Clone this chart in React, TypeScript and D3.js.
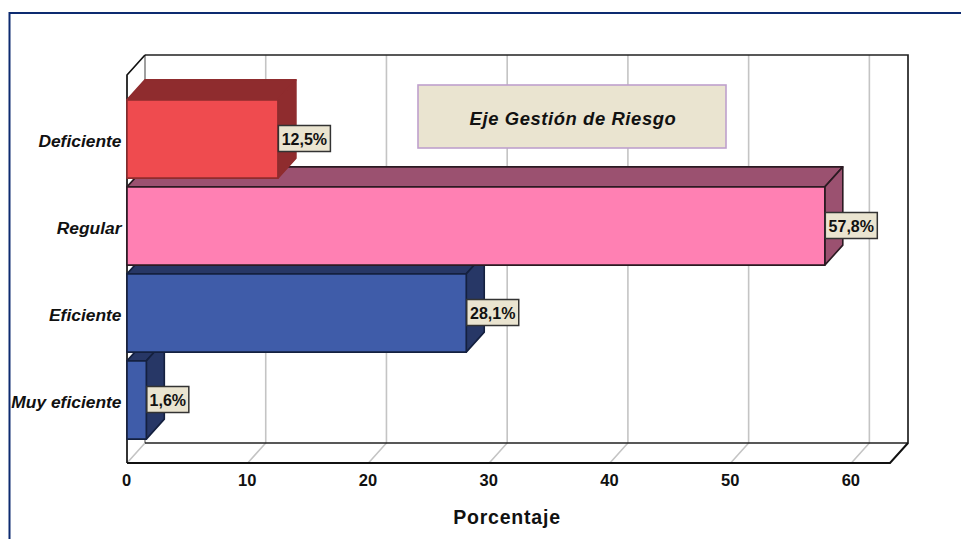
import React from "react";
import * as d3 from "d3";

const categories = ["Deficiente", "Regular", "Eficiente", "Muy eficiente"];
const percentages = [12.5, 57.8, 28.1, 1.6];
const valueLabels = ["12,5%", "57,8%", "28,1%", "1,6%"];
const frontColors = ["#EF4B4F", "#FF80B3", "#3F5CA9", "#3F5CA9"];
const depthColors = ["#8F2C2E", "#9B5170", "#273766", "#273766"];
const edgeColors = ["#8F2C2E", "#2b1a22", "#14203f", "#14203f"];
const xTicks = [0, 10, 20, 30, 40, 50, 60];
const chartTitle = "Eje Gestión de Riesgo";
const axisTitle = "Porcentaje";

const DX = 18;
const DY = -20;
const FLOOR = 463;
const TOP = 75;
const X_MAX = 63.2;
const SANS = "'Liberation Sans', Arial, sans-serif";

const x = d3.scaleLinear().domain([0, X_MAX]).range([127, 890]);
const y = d3.scaleBand<string>().domain(categories).range([95.5, 443.5]).paddingInner(0.1).paddingOuter(0.05);

const poly = (pts: [number, number][]) => pts.map((p) => p.join(",")).join(" ");

export default function App() {
  const order = d3.range(categories.length).reverse();
  const x0 = x(0);
  const xEnd = x(X_MAX);
  return (
    <svg width={961} height={539} style={{ position: "absolute", left: 0, top: 0, background: "#fff" }}>
      {/* outer frame */}
      <path d="M9.5,539V13H961" fill="none" stroke="#0d2b70" strokeWidth={2} />

      {/* floor and left wall */}
      <g fill="none">
        {xTicks.map((t) => (
          <path key={t} d={`M${x(t)},${FLOOR}L${x(t) + DX},${FLOOR + DY}V${TOP + DY}`} stroke="#c4c4c4" strokeWidth={1.6} />
        ))}
        <path d={`M${x0 + DX},${FLOOR + DY}V${TOP + DY}`} stroke="#8a8a8a" strokeWidth={1.4} />
        <path d={`M${x0 + DX},${TOP + DY}H${xEnd + DX}V${FLOOR + DY}H${x0 + DX}`} stroke="#222" strokeWidth={1.7} />
        <path d={`M${x0},${FLOOR}V${TOP}L${x0 + DX},${TOP + DY}`} stroke="#111" strokeWidth={1.7} />
        <path d={`M${x0},${FLOOR}H${xEnd}L${xEnd + DX},${FLOOR + DY}`} stroke="#111" strokeWidth={2} />
      </g>

      {/* bars, painted from the lowest one upward so upper fronts overlap lower tops */}
      {order.map((i) => {
        const top = y(categories[i])!;
        const bottom = top + y.bandwidth();
        const end = x(percentages[i]);
        return (
          <g key={categories[i]} stroke={edgeColors[i]} strokeWidth={1.6} strokeLinejoin="round">
            <polygon
              points={poly([[x0, top], [x0 + DX, top + DY], [end + DX, top + DY], [end, top]])}
              fill={depthColors[i]}
            />
            <polygon
              points={poly([[end, top], [end + DX, top + DY], [end + DX, bottom + DY], [end, bottom]])}
              fill={depthColors[i]}
            />
            <rect x={x0} y={top} width={end - x0} height={bottom - top} fill={frontColors[i]} />
          </g>
        );
      })}

      {/* category labels */}
      {categories.map((c) => (
        <text
          key={c}
          x={121.5}
          y={y(c)! + y.bandwidth() / 2 + 7.5}
          textAnchor="end"
          fontFamily={SANS}
          fontSize={17.4}
          fontWeight="bold"
          fontStyle="italic"
          fill="#111"
        >
          {c}
        </text>
      ))}

      {/* value labels */}
      {categories.map((c, i) => {
        const w = valueLabels[i].length > 4 ? 52 : 42;
        const cy = y(c)! + y.bandwidth() / 2 - 0.5;
        const left = x(percentages[i]);
        return (
          <g key={c}>
            <rect x={left + 0.5} y={cy - 13} width={w} height={26} fill="#EAE4D0" stroke="#333" strokeWidth={1.5} />
            <text
              x={left + 0.5 + w / 2}
              y={cy + 6}
              textAnchor="middle"
              fontFamily={SANS}
              fontSize={16}
              fontWeight="bold"
              fill="#111"
            >
              {valueLabels[i]}
            </text>
          </g>
        );
      })}

      {/* value axis */}
      {xTicks.map((t) => (
        <text key={t} x={x(t) - 0.5} y={485.5} textAnchor="middle" fontFamily={SANS} fontSize={16.5} fontWeight="bold" fill="#111">
          {t}
        </text>
      ))}
      <text x={507} y={524} textAnchor="middle" fontFamily={SANS} fontSize={19.5} fontWeight="bold" letterSpacing={0.8} fill="#111">
        {axisTitle}
      </text>

      {/* title box */}
      <rect x={418} y={85} width={308} height={63} fill="#EAE4D0" stroke="#BFA0CC" strokeWidth={1.6} />
      <text
        x={573}
        y={125}
        textAnchor="middle"
        fontFamily={SANS}
        fontSize={18.4}
        fontWeight="bold"
        fontStyle="italic"
        letterSpacing={0.6}
        fill="#111"
      >
        {chartTitle}
      </text>
    </svg>
  );
}
